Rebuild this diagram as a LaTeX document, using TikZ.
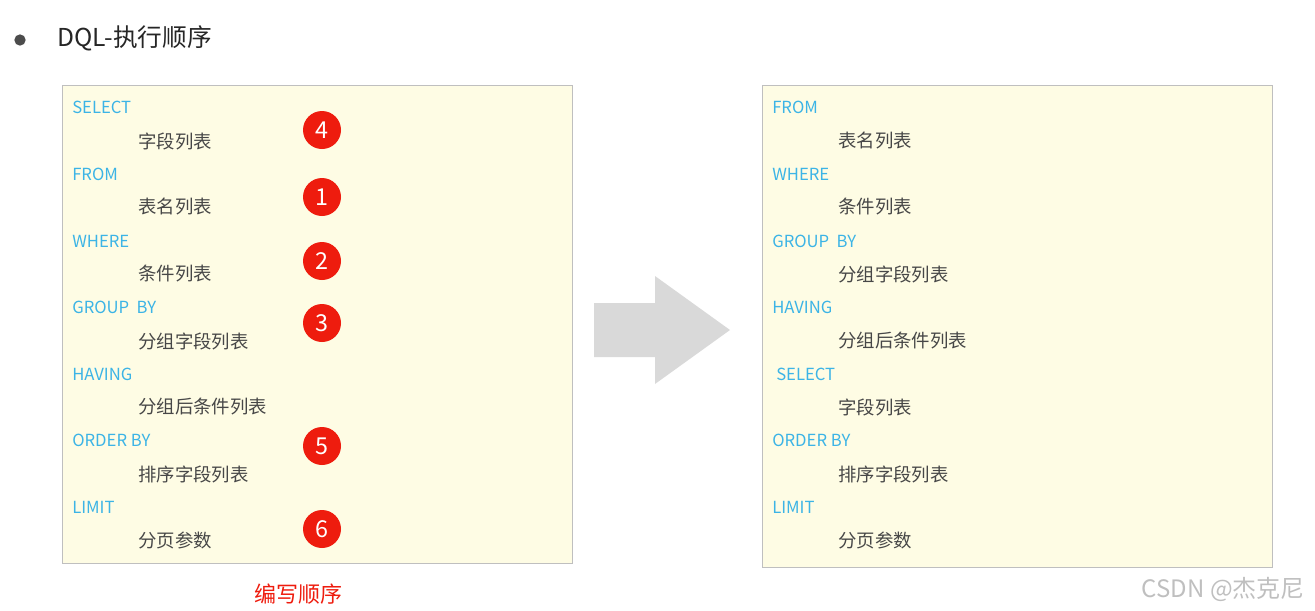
\documentclass[tikz,border=0pt]{standalone}
\usepackage{fontspec}
\setmainfont{Noto Sans CJK SC}
\usepackage{xcolor}
\usetikzlibrary{positioning,calc}

\definecolor{kwblue}{HTML}{3CB4E6}
\definecolor{paneyellow}{HTML}{FEFCE4}
\definecolor{markred}{HTML}{EE1C0E}
\definecolor{arrowgray}{HTML}{D9D9D9}

\begin{document}
\begin{tikzpicture}[x=0.75pt, y=-0.75pt,
  pane/.style={draw=black!25, fill=paneyellow, line width=0.75pt},
  kw/.style={anchor=west, inner sep=0pt, text=kwblue, font=\fontsize{12.5}{14}\selectfont},
  item/.style={anchor=west, inner sep=0pt, text=black!72, font=\fontsize{13.8}{15}\selectfont},
  badge/.style={circle, fill=markred, text=white, minimum size=28.5pt, inner sep=0pt, font=\fontsize{17.5}{18}\selectfont}
]
\useasboundingbox (0,0) rectangle (1315,611);

% title
\node[circle, fill=black!70, minimum size=8.5pt, inner sep=0pt] (dot) at (20,40) {};
\node[anchor=west, inner sep=0pt, text=black!85, font=\fontsize{18.5}{20}\selectfont] (title) at (57,38) {DQL-执行顺序};

% written order
\path[pane] (62,85) rectangle (572,563);
\node[kw]   (wsel) at (72,107)  {SELECT};
\node[item] (wsf)  at (138,141) {字段列表};
\node[kw]   (wfrm) at (72,174)  {FROM};
\node[item] (wtn)  at (138,207) {表名列表};
\node[kw]   (wwhr) at (72,241)  {WHERE};
\node[item] (wcd)  at (138,274) {条件列表};
\node[kw]   (wgrp) at (72,307)  {GROUP\ \ BY};
\node[item] (wgf)  at (138,341) {分组字段列表};
\node[kw]   (whav) at (72,374)  {HAVING};
\node[item] (whc)  at (138,407) {分组后条件列表};
\node[kw]   (word) at (72,440)  {ORDER BY};
\node[item] (wof)  at (138,474) {排序字段列表};
\node[kw]   (wlim) at (72,507)  {LIMIT};
\node[item] (wpg)  at (138,540) {分页参数};

\node[badge] (m4) at (322,130) {4};
\node[badge] (m1) at (322,197) {1};
\node[badge] (m2) at (322,261) {2};
\node[badge] (m3) at (322,323) {3};
\node[badge] (m5) at (322,446) {5};
\node[badge] (m6) at (322,529) {6};

\node[text=markred, inner sep=0pt, font=\fontsize{16.5}{18}\selectfont] (wcap) at (298,594) {编写顺序};

% big arrow
\fill[arrowgray] (594,303) -- (655,303) -- (655,276) -- (730,330) -- (655,384) -- (655,357) -- (594,357) -- cycle;

% execution order
\path[pane] (762,85) rectangle (1272,567);
\node[kw]   (efrm) at (772,107)  {FROM};
\node[item] (etn)  at (838,141) {表名列表};
\node[kw]   (ewhr) at (772,174)  {WHERE};
\node[item] (ecd)  at (838,207) {条件列表};
\node[kw]   (egrp) at (772,241)  {GROUP\ \ BY};
\node[item] (egf)  at (838,274) {分组字段列表};
\node[kw]   (ehav) at (772,307)  {HAVING};
\node[item] (ehc)  at (838,341) {分组后条件列表};
\node[kw]   (esel) at (776,374)  {SELECT};
\node[item] (esf)  at (838,407) {字段列表};
\node[kw]   (eord) at (772,440)  {ORDER BY};
\node[item] (eof)  at (838,474) {排序字段列表};
\node[kw]   (elim) at (772,507)  {LIMIT};
\node[item] (epg)  at (838,540) {分页参数};

\node[anchor=east, inner sep=0pt, text=black!25, font=\fontsize{18}{20}\selectfont] (wm) at (1305,589) {CSDN @杰克尼};

\end{tikzpicture}
\end{document}
